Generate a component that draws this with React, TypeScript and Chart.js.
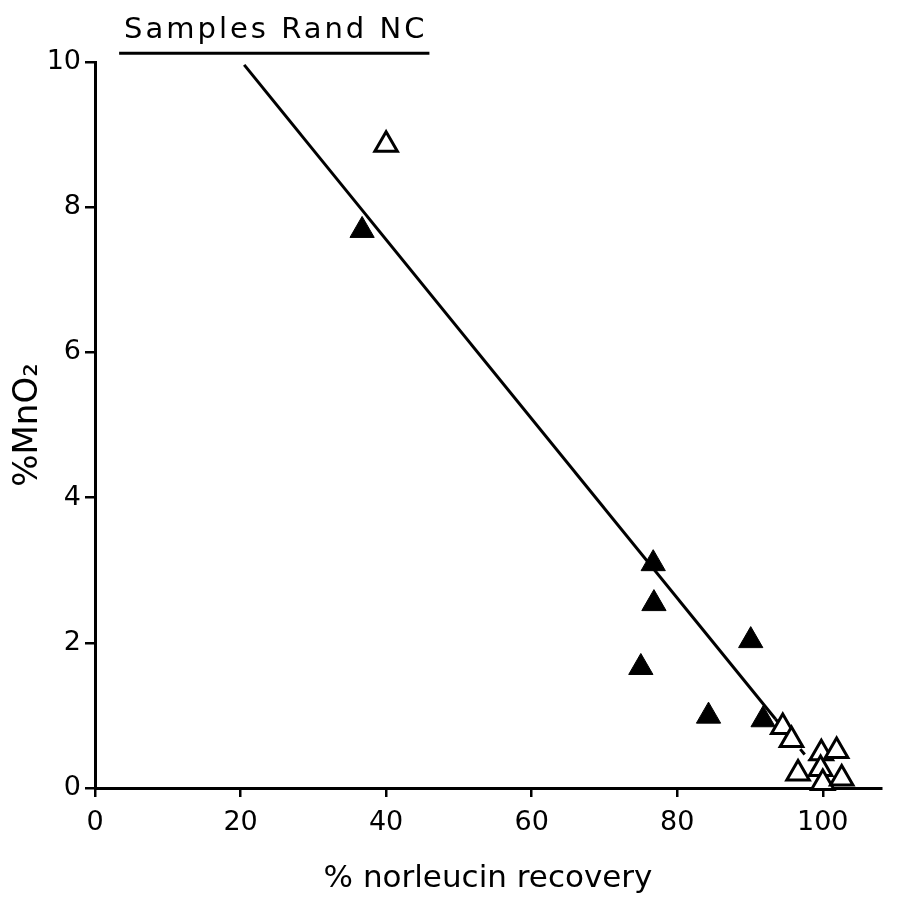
import React, { useEffect, useRef } from "react";
import { Chart, registerables } from "chart.js";

Chart.register(...registerables);

// Filled triangles
const filledX = [36.7, 76.7, 76.8, 75.0, 90.1, 84.3, 91.8];
const filledY = [7.68, 3.09, 2.54, 1.66, 2.03, 0.99, 0.94];
// Open triangles
const openX = [40.0, 94.5, 95.7, 99.8, 101.9, 96.6, 99.7, 100.0, 102.6];
const openY = [8.86, 0.84, 0.66, 0.48, 0.51, 0.2, 0.26, 0.07, 0.13];
// Fitted line (solid, then dashed extension)
const fitX = [20.5, 93.5, 98.1];
const fitY = [9.96, 0.95, 0.39];

const xTicks = [0, 20, 40, 60, 80, 100];
const yTicks = [0, 2, 4, 6, 8, 10];

const chartTitle = "Samples Rand NC";
const xTitle = "% norleucin recovery";
const yTitle = "%MnO₂";

const FONT = "'DejaVu Sans', sans-serif";

const titlePlugin = {
  id: "headerTitle",
  afterDraw(chart: any) {
    const { ctx, scales } = chart;
    const xs = scales.x;
    const ys = scales.y;
    ctx.save();
    ctx.font = `29px ${FONT}`;
    (ctx as any).letterSpacing = "3px";
    ctx.fillStyle = "#000";
    ctx.textBaseline = "alphabetic";
    const tx = xs.getPixelForValue(4);
    const baseY = ys.getPixelForValue(10.33);
    ctx.fillText(chartTitle, tx, baseY);
    const w = ctx.measureText(chartTitle).width;
    const uy = ys.getPixelForValue(10.12);
    ctx.beginPath();
    ctx.lineWidth = 3;
    ctx.strokeStyle = "#000";
    ctx.moveTo(tx - 5, uy);
    ctx.lineTo(tx + w + 2, uy);
    ctx.stroke();
    ctx.restore();
  },
};

export default function App() {
  const ref = useRef<HTMLCanvasElement>(null);
  useEffect(() => {
    if (!ref.current) return;
    const chart = new Chart(ref.current, {
      type: "scatter",
      data: {
        datasets: [
          {
            label: "filled",
            data: filledX.map((x, i) => ({ x, y: filledY[i] })),
            pointStyle: "triangle",
            pointRadius: 14,
            backgroundColor: "#000",
            borderColor: "#000",
            borderWidth: 1,
            clip: false,
            order: 1,
          },
          {
            label: "open",
            data: openX.map((x, i) => ({ x, y: openY[i] })),
            pointStyle: "triangle",
            pointRadius: 13,
            backgroundColor: "#fff",
            borderColor: "#000",
            borderWidth: 3,
            clip: false,
            order: 0,
          },
          {
            label: "fit",
            data: fitX.map((x, i) => ({ x, y: fitY[i] })),
            showLine: true,
            pointRadius: 0,
            borderColor: "#000",
            borderWidth: 3,
            clip: false,
            order: 2,
            segment: {
              borderDash: (c: any) => (c.p0DataIndex === 1 ? [7, 6] : undefined),
            },
          } as any,
        ],
      },
      options: {
        animation: false,
        responsive: true,
        maintainAspectRatio: false,
        layout: { padding: { top: 62, right: 11, bottom: 0, left: 0 } },
        plugins: {
          legend: { display: false },
          tooltip: { enabled: false },
          title: { display: false },
        },
        scales: {
          x: {
            type: "linear",
            min: 0,
            max: 108,
            afterBuildTicks: (s: any) => {
              s.ticks = xTicks.map((v) => ({ value: v }));
            },
            afterFit: (s: any) => {
              s.height = 118;
            },
            ticks: {
              color: "#000",
              font: { family: FONT, size: 27 },
              padding: 10,
              maxRotation: 0,
            },
            grid: {
              display: true,
              drawOnChartArea: false,
              drawTicks: true,
              tickLength: 9,
              color: "#000",
              lineWidth: 2.5,
            },
            border: { display: true, color: "#000", width: 3 },
            title: {
              display: true,
              text: xTitle,
              color: "#000",
              font: { family: FONT, size: 31 },
              padding: { top: 0, bottom: 8 },
            },
          },
          y: {
            type: "linear",
            min: 0,
            max: 10,
            afterBuildTicks: (s: any) => {
              s.ticks = yTicks.map((v) => ({ value: v }));
            },
            afterFit: (s: any) => {
              s.width = 95;
            },
            ticks: {
              color: "#000",
              font: { family: FONT, size: 27 },
              padding: 4,
            },
            grid: {
              display: true,
              drawOnChartArea: false,
              drawTicks: true,
              tickLength: 10,
              color: "#000",
              lineWidth: 2.5,
            },
            border: { display: true, color: "#000", width: 3 },
            title: {
              display: true,
              text: yTitle,
              color: "#000",
              font: { family: FONT, size: 34 },
              padding: { top: 8, bottom: 0 },
            },
          },
        },
      },
      plugins: [titlePlugin],
    });
    return () => chart.destroy();
  }, []);
  return (
    <div
      style={{
        position: "fixed",
        left: 0,
        top: 0,
        width: 897,
        height: 906,
        background: "#fff",
      }}
    >
      <canvas ref={ref} />
    </div>
  );
}
